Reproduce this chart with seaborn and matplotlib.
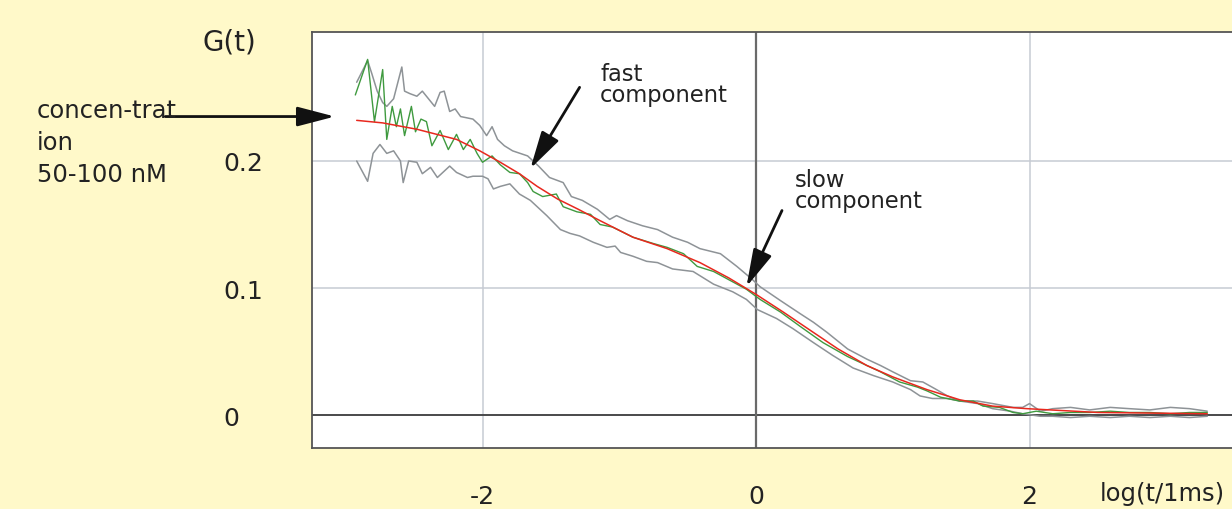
import matplotlib
matplotlib.use("Agg")
import matplotlib.pyplot as plt
import seaborn as sns

# ---------------- data (log(t/1ms), G(t)) ----------------
fit_x = [-2.92, -2.73, -2.48, -2.19, -2.02, -1.87, -1.73, -1.60, -1.45, -1.30, -1.14,
         -0.90, -0.65, -0.41, -0.20, 0.00, 0.20, 0.42, 0.60, 0.81, 1.00, 1.25, 1.49,
         1.73, 1.98, 2.50, 3.30]
fit_y = [0.232, 0.230, 0.225, 0.217, 0.208, 0.199, 0.190, 0.180, 0.170, 0.162, 0.153,
         0.140, 0.131, 0.120, 0.108, 0.095, 0.081, 0.065, 0.052, 0.039, 0.030, 0.020, 0.012,
         0.007, 0.005, 0.002, 0.001]

data_x = [-2.93, -2.84, -2.79, -2.73, -2.70, -2.66, -2.63, -2.60, -2.57, -2.52, -2.49,
          -2.45, -2.41, -2.37, -2.31, -2.25, -2.19, -2.14, -2.09, -2.04, -2.00, -1.93,
          -1.87, -1.80, -1.73, -1.67, -1.63, -1.56, -1.46, -1.41, -1.31, -1.21, -1.14,
          -1.05, -0.90, -0.75, -0.65, -0.53, -0.43, -0.31, -0.19, -0.07, 0.03, 0.18,
          0.32, 0.49, 0.67, 0.81, 0.91, 1.05, 1.18, 1.25, 1.35, 1.49, 1.59, 1.66, 1.78,
          1.88, 1.95, 2.05, 2.17, 2.30, 2.44, 2.59, 2.73, 2.88, 3.03, 3.17, 3.30]
data_y = [0.252, 0.280, 0.231, 0.272, 0.217, 0.243, 0.227, 0.241, 0.220, 0.243, 0.223,
          0.233, 0.231, 0.212, 0.224, 0.209, 0.221, 0.209, 0.217, 0.206, 0.199, 0.204,
          0.197, 0.191, 0.190, 0.183, 0.176, 0.172, 0.174, 0.164, 0.160, 0.158, 0.150,
          0.148, 0.140, 0.135, 0.132, 0.127, 0.117, 0.113, 0.106, 0.099, 0.091, 0.081,
          0.070, 0.057, 0.046, 0.039, 0.034, 0.026, 0.022, 0.019, 0.014, 0.011, 0.011, 0.007, 0.006,
          0.002, 0.001, 0.003, 0.001, 0.002, 0.002, 0.003, 0.002, 0.002, 0.001, 0.002, 0.002]

upper_x = [-2.92, -2.84, -2.81, -2.77, -2.73, -2.70, -2.65, -2.59, -2.57, -2.53, -2.48,
           -2.44, -2.38, -2.35, -2.31, -2.28, -2.24, -2.20, -2.16, -2.07, -2.02, -1.97,
           -1.93, -1.89, -1.84, -1.78, -1.67, -1.59, -1.51, -1.41, -1.35, -1.27, -1.16,
           -1.07, -1.02, -0.94, -0.83, -0.72, -0.61, -0.50, -0.41, -0.26, -0.14, -0.03,
           0.03, 0.18, 0.32, 0.42, 0.52, 0.67, 0.81, 0.91, 1.00, 1.13, 1.22, 1.32, 1.40,
           1.49, 1.62, 1.73, 1.88, 1.95, 2.00, 2.08, 2.17, 2.30, 2.44, 2.59, 2.73, 2.88,
           3.03, 3.17, 3.30]
upper_y = [0.262, 0.279, 0.269, 0.255, 0.246, 0.243, 0.249, 0.274, 0.255, 0.253, 0.251,
           0.255, 0.247, 0.243, 0.254, 0.255, 0.239, 0.241, 0.235, 0.233, 0.228, 0.220,
           0.227, 0.217, 0.212, 0.208, 0.204, 0.196, 0.187, 0.183, 0.172, 0.169, 0.162,
           0.154, 0.157, 0.153, 0.149, 0.146, 0.140, 0.136, 0.131, 0.127, 0.117, 0.107,
           0.101, 0.090, 0.080, 0.073, 0.065, 0.052, 0.044, 0.039, 0.034, 0.027, 0.026, 0.020, 0.015,
           0.011, 0.011, 0.009, 0.006, 0.006, 0.009, 0.003, 0.005, 0.006, 0.004, 0.006, 0.005, 0.004,
           0.006, 0.005, 0.003]

lower_x = [-2.92, -2.84, -2.80, -2.75, -2.70, -2.65, -2.60, -2.58, -2.54, -2.48, -2.44,
           -2.38, -2.33, -2.24, -2.19, -2.11, -2.07, -2.00, -1.96, -1.92, -1.87, -1.80,
           -1.73, -1.65, -1.53, -1.43, -1.36, -1.29, -1.19, -1.09, -1.03, -0.99, -0.90,
           -0.80, -0.72, -0.61, -0.46, -0.31, -0.17, -0.07, 0.01, 0.15, 0.27, 0.42, 0.56,
           0.71, 0.86, 1.00, 1.13, 1.20, 1.29, 1.40, 1.49, 1.62, 1.73, 1.86, 1.95, 2.08,
           2.17, 2.30, 2.44, 2.59, 2.73, 2.88, 3.03, 3.17, 3.30]
lower_y = [0.200, 0.184, 0.206, 0.213, 0.206, 0.208, 0.200, 0.183, 0.200, 0.199, 0.190,
           0.195, 0.187, 0.196, 0.191, 0.187, 0.188, 0.188, 0.186, 0.178, 0.180, 0.182,
           0.174, 0.169, 0.157, 0.146, 0.143, 0.141, 0.136, 0.132, 0.133, 0.128, 0.125,
           0.121, 0.120, 0.115, 0.113, 0.103, 0.097, 0.091, 0.083, 0.076, 0.068, 0.057, 0.047,
           0.037, 0.031, 0.026, 0.020, 0.015, 0.013, 0.013, 0.011, 0.009, 0.005, 0.003, 0.001, -0.001,
           -0.001, -0.002, -0.001, -0.002, -0.001, -0.002, -0.001, -0.002, -0.001]

x_ticks = [-2, 0, 2]
x_ticklabels = ["-2", "0", "2"]
y_ticks = [0, 0.1, 0.2]
y_ticklabels = ["0", "0.1", "0.2"]
side_label = ["concen-trat", "ion", "50-100 nM"]

# ---------------- style ----------------
sns.set_style("white")
plt.rcParams["font.family"] = ["DejaVu Sans"]

BG = "#FFF9C9"
TXT = "#222222"
fig = plt.figure(figsize=(12.32, 5.10), dpi=100, facecolor=BG)
W, H = 1232, 510
ax = fig.add_axes([312 / W, 61 / H, 928 / W, 416 / H])
ax.set_facecolor("white")

ax.set_xlim(-3.2468, 3.5393)
ax.set_ylim(-0.02598, 0.30157)

ax.grid(True, color="#c6cbd3", lw=1.1, zorder=0)
ax.axhline(0, color="#333333", lw=1.2, zorder=1)
ax.axvline(0, color="#6a6a6a", lw=1.6, zorder=1)

grey = "#8e9397"
sns.lineplot(x=upper_x, y=upper_y, ax=ax, color=grey, lw=1.1, zorder=2)
sns.lineplot(x=lower_x, y=lower_y, ax=ax, color=grey, lw=1.1, zorder=2)
sns.lineplot(x=data_x, y=data_y, ax=ax, color="#3f9a3f", lw=1.0, zorder=3)
sns.lineplot(x=fit_x, y=fit_y, ax=ax, color="#e8281e", lw=1.1, zorder=4)

for s in ["left", "bottom", "top"]:
    ax.spines[s].set_color("#555555")
    ax.spines[s].set_linewidth(1.3)
ax.spines["right"].set_visible(False)

ax.set_xticks(x_ticks)
ax.set_xticklabels(x_ticklabels, fontsize=18, color=TXT)
ax.set_yticks(y_ticks)
ax.set_yticklabels(y_ticklabels, fontsize=18, color=TXT)
ax.tick_params(axis="x", direction="in", length=7, width=1.2, color="#444444", pad=26)
ax.tick_params(axis="y", direction="in", length=6, width=1.2, color="#444444", pad=64)
for lab in ax.get_yticklabels():
    lab.set_horizontalalignment("left")
ax.set_xlabel("")
ax.set_ylabel("")

# axis titles
fig.text(229 / W, 1 - 43 / H, "G(t)", fontsize=20, ha="center", va="center", color=TXT)
fig.text(1100 / W, 1 - 482 / H, "log(t/1ms)", fontsize=17.5, ha="left", va="top", color=TXT)

# side label (one line per row)
for i, line in enumerate(side_label):
    fig.text(37 / W, 1 - (118 + 32 * i) / H, line, fontsize=17.5, ha="left",
             va="baseline", color=TXT)

# annotations with arrows
arrow_kw = dict(arrowstyle="-|>,head_length=2.3,head_width=0.6", lw=2.0, color="#111111",
                shrinkA=0, shrinkB=0, mutation_scale=10)
ax.annotate("", xy=(-3.08, 0.235), xytext=(-4.32, 0.235), xycoords="data",
            arrowprops=arrow_kw, annotation_clip=False)
ax.annotate("", xy=(-1.65, 0.194), xytext=(-1.29, 0.258), arrowprops=arrow_kw,
            annotation_clip=False)
ax.annotate("", xy=(-0.07, 0.101), xytext=(0.19, 0.161), arrowprops=arrow_kw,
            annotation_clip=False)

ax.text(-1.14, 0.2472, "fast\ncomponent", fontsize=16.3, ha="left", va="baseline",
        linespacing=0.9, color=TXT)
ax.text(0.285, 0.1638, "slow\ncomponent", fontsize=16.3, ha="left", va="baseline",
        linespacing=0.9, color=TXT)

fig.savefig("out.png", dpi=100, facecolor=BG)
